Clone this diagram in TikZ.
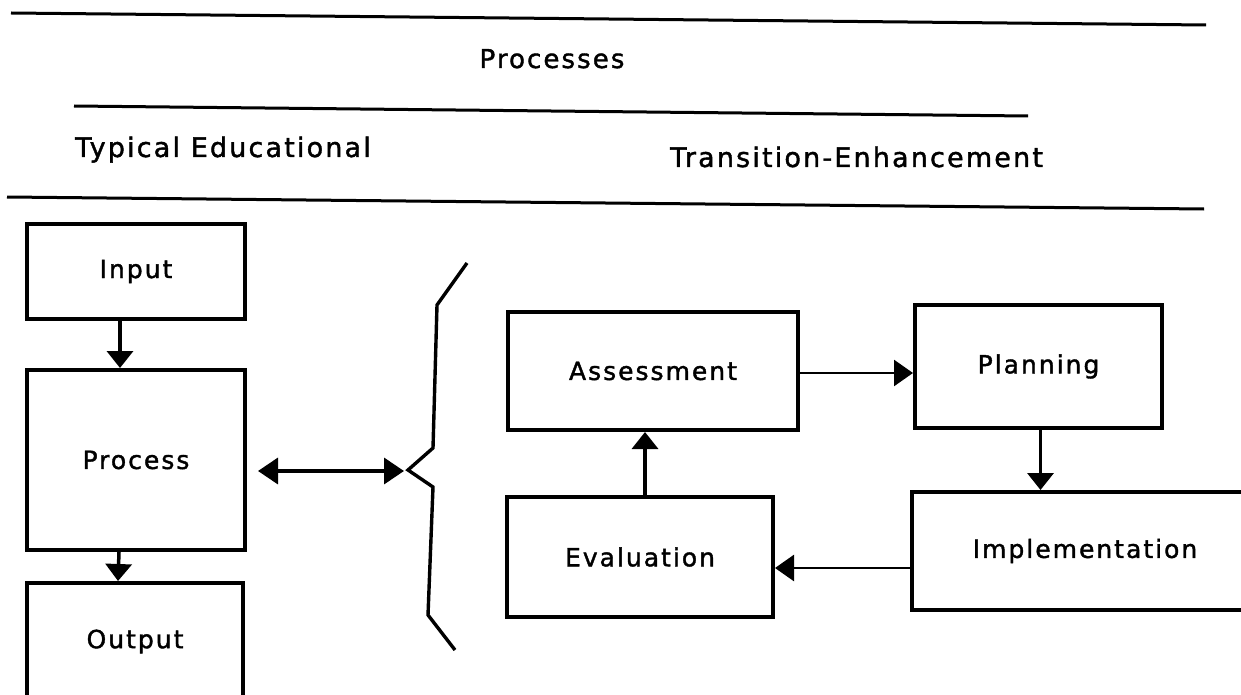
\documentclass[tikz,border=0pt]{standalone}
\usepackage{fontspec}
\setmainfont{DejaVu Sans}[LetterSpace=8,FakeBold=1.5]
\usetikzlibrary{arrows.meta}
\begin{document}
\begin{tikzpicture}[x=1pt,y=-1pt,
  every node/.style={font=\fontsize{25}{30}\selectfont},
  head/.style={font=\fontsize{27}{32}\selectfont},
  box/.style={draw, line width=4pt, inner sep=0pt, align=center},
  rule/.style={line width=3pt},
  arr/.style={line width=3.5pt, -{Triangle[length=17pt,width=26pt]}},
  thinarr/.style={line width=2.6pt, -{Triangle[length=19pt,width=26pt]}},
  dbl/.style={line width=3.6pt, {Triangle[length=20pt,width=26pt]}-{Triangle[length=20pt,width=26pt]}},
  brace/.style={line width=3.4pt, line join=miter}
]
\useasboundingbox (0,0) rectangle (1241,695);
\clip (0,0) rectangle (1241,695);

% header rules and texts
\draw[rule] (11,13) -- (1206,25);
\node[head, font=\fontsize{26}{31}\selectfont, anchor=base, inner sep=0pt] (hp) at (552,68) {Processes};
\draw[rule] (74,106) -- (1028,116);
\node[head, anchor=base west, inner sep=0pt] (ht) at (75,157) {Typical Educational};
\node[head, anchor=base west, inner sep=0pt] (he) at (670,167) {Transition-Enhancement};
\draw[rule] (7,197) -- (1204,209);

% left column
\node[box, minimum width=218pt, minimum height=95pt] (inp) at (136,271.5) {Input};
\node[box, minimum width=218pt, minimum height=180pt] (proc) at (136,460) {Process};
\node[box, minimum width=216pt, minimum height=117pt] (outp) at (135,641.5) {Output};
\draw[arr] ([xshift=-16pt]inp.south) -- ([xshift=-16pt]proc.north);
\draw[arr] ([xshift=-17pt]proc.south) -- ([xshift=-17pt]outp.north);

% brace and double arrow
\coordinate (btop) at (467,263);
\coordinate (btip) at (408,470);
\coordinate (bbot) at (455,650);
\draw[brace] (btop) -- (437,305) -- (433,448) -- (btip) -- (433,487) -- (428,615) -- (bbot);
\coordinate (dl) at (258,471);
\draw[dbl] (dl) -- (btip |- dl) [shorten >=4pt];

% cycle
\node[box, minimum width=290pt, minimum height=118pt] (asmt) at (653,371) {Assessment};
\node[box, minimum width=247pt, minimum height=123pt] (plan) at (1038.5,366.5) {Planning};
\node[box, minimum width=266pt, minimum height=120pt] (eval) at (640,557) {Evaluation};
\node[box, minimum width=346pt, minimum height=118pt] (impl) at (1085,551) {Implementation};

\draw[thinarr] ([yshift=-2pt]asmt.east) -- ([yshift=-2pt]asmt.east -| plan.west);
\draw[arr] ([xshift=2pt]plan.south) -- ([xshift=2pt]plan.south |- impl.north);
\draw[thinarr] ([yshift=-17pt]impl.west) -- ([yshift=-17pt]impl.west -| eval.east);
\draw[arr] ([xshift=5pt]eval.north) -- ([xshift=5pt]eval.north |- asmt.south);
\end{tikzpicture}
\end{document}
